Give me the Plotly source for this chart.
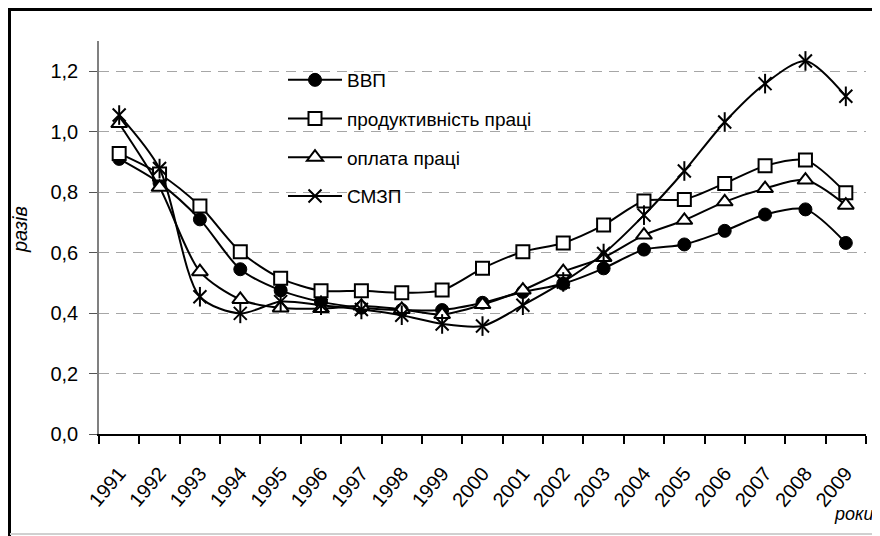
import plotly.graph_objects as go

years = [str(y) for y in range(1991, 2010)]
vvp = [0.91, 0.83, 0.71, 0.545, 0.475, 0.437, 0.418, 0.41, 0.41, 0.434, 0.47, 0.497, 0.548, 0.61, 0.627, 0.672, 0.726, 0.743, 0.632]
productivity = [0.928, 0.86, 0.754, 0.603, 0.515, 0.474, 0.474, 0.467, 0.476, 0.548, 0.603, 0.632, 0.691, 0.771, 0.776, 0.829, 0.887, 0.906, 0.798]
wages = [1.027, 0.816, 0.537, 0.445, 0.417, 0.415, 0.423, 0.412, 0.395, 0.428, 0.476, 0.537, 0.584, 0.658, 0.707, 0.768, 0.812, 0.84, 0.757]
smzp = [1.055, 0.878, 0.454, 0.399, 0.438, 0.426, 0.412, 0.393, 0.364, 0.357, 0.426, 0.503, 0.597, 0.724, 0.87, 1.032, 1.159, 1.234, 1.117]
names = ["ВВП", "продуктивність праці", "оплата праці", "СМЗП"]

FONT = "Liberation Sans, Arial, sans-serif"
OFF = 8  # page body margin
W, H = 880 - OFF, 536 - OFF
# plot area in screen pixels: x 99..866, y 41..434
SL, SR, ST, SB = 99, 866, 41, 434
L, R, T, B = SL - OFF, W - (SR - OFF), ST - OFF, H - (SB - OFF)
PW, PH = W - L - R, H - T - B

def px(x):
    return (x - SL) / PW

def py(y):
    return (SB - y) / PH

fig = go.Figure()
line = dict(color="black", width=2, shape="spline", smoothing=0.8)
fig.add_trace(go.Scatter(x=years, y=vvp, name=names[0], mode="lines+markers", line=line,
                         marker=dict(symbol="circle", size=13, color="black", line=dict(color="black", width=1)),
                         legendgroup="a"))
fig.add_trace(go.Scatter(x=years, y=productivity, name=names[1], mode="lines+markers", line=line,
                         marker=dict(symbol="square", size=13, color="white", line=dict(color="black", width=2)),
                         legendgroup="b"))
fig.add_trace(go.Scatter(x=years, y=wages, name=names[2], mode="lines+markers", line=line,
                         marker=dict(symbol="triangle-up", size=14, color="white", line=dict(color="black", width=2)),
                         legendgroup="c"))
fig.add_trace(go.Scatter(x=years, y=smzp, name=names[3], mode="lines+markers", line=line,
                         marker=dict(symbol="x-thin-open", size=13, color="black", line=dict(color="black", width=2)),
                         legendgroup="d"))
fig.add_trace(go.Scatter(x=years, y=smzp, name=names[3], mode="markers", showlegend=False,
                         marker=dict(symbol="line-ns-open", size=14, color="black", line=dict(color="black", width=2)),
                         legendgroup="d", hoverinfo="skip"))

fig.update_layout(
    width=W, height=H, autosize=False,
    margin=dict(l=L, r=R, t=T, b=B),
    paper_bgcolor="white", plot_bgcolor="white",
    separators=",.",
    font=dict(family=FONT, color="black", size=19),
    showlegend=True,
    legend=dict(x=px(283), y=py(61), xanchor="left", yanchor="top",
                bgcolor="rgba(0,0,0,0)", font=dict(size=19, family=FONT),
                tracegroupgap=11, itemwidth=54),
    xaxis=dict(type="category", categoryorder="array", categoryarray=years,
               range=[-0.5, 18.5], tickson="boundaries", ticks="outside", ticklen=8,
               tickcolor="black", tickwidth=1.5, showline=True, linecolor="black", linewidth=1.5,
               showgrid=False, tickangle=-50, tickfont=dict(size=20, family=FONT),
               ticklabelstandoff=18),
    yaxis=dict(range=[0, 1.3], tick0=0, dtick=0.2, tickformat=".1f", ticks="outside", ticklen=8,
               tickcolor="#555555", showline=True, linecolor="#808080", linewidth=1.5,
               showgrid=True, gridcolor="#a6a6a6", griddash="10px,7px", gridwidth=1,
               zeroline=False, tickfont=dict(size=20, family=FONT), ticklabelstandoff=7),
    shapes=[
        dict(type="rect", xref="paper", yref="paper", x0=px(245), x1=px(591), y0=py(212), y1=py(52),
             fillcolor="white", line=dict(width=0), layer="between"),
        dict(type="rect", xref="paper", yref="paper", x0=px(9.5), x1=px(890), y0=py(545), y1=py(9.5),
             fillcolor="rgba(0,0,0,0)", line=dict(color="black", width=3), layer="above"),
        dict(type="line", xref="paper", yref="paper", x0=px(10), x1=px(880), y0=py(534), y1=py(534),
             line=dict(color="#d0d0d0", width=2), layer="above"),
    ],
    annotations=[
        dict(text="<i>разів</i>", xref="paper", yref="paper", x=px(20), y=py(230), textangle=-90,
             showarrow=False, font=dict(size=20, family=FONT), xanchor="center", yanchor="middle"),
        dict(text="<i>роки</i>", xref="paper", yref="paper", x=px(876), y=py(514),
             showarrow=False, font=dict(size=18, family=FONT), xanchor="right", yanchor="middle"),
    ],
)

fig.write_html("out.html")
